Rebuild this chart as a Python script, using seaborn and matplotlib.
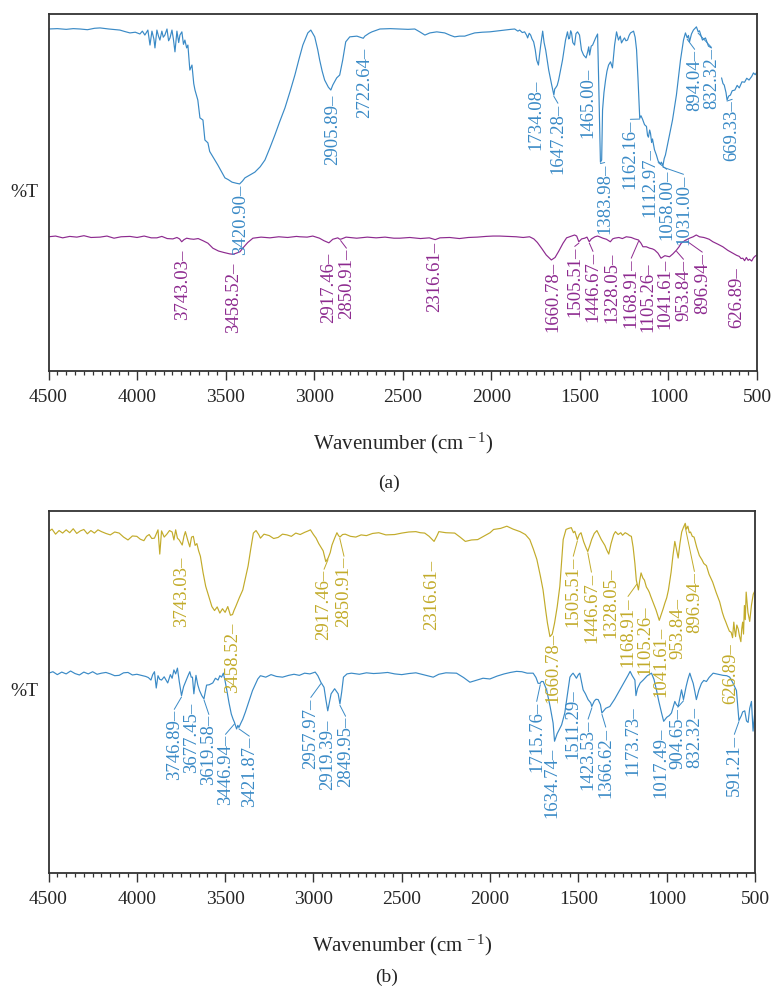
import numpy as np
import pandas as pd
import matplotlib
matplotlib.use("Agg")
import matplotlib.pyplot as plt
from matplotlib.ticker import MultipleLocator
import seaborn as sns

nan = np.nan

# ---------------- panel (a): upper trace (blue) ----------------
wn_a_top = [4500, 4450, 4400, 4360, 4322, 4280, 4240, 4209, 4160, 4120, 4097, 4070, 4040, 4010, 3984, 3970,
            3956, 3939, 3927, 3916, 3905, 3899, 3888, 3879, 3871, 3860, 3852, 3843, 3831, 3822, 3814, 3803,
            3795, 3786, 3775, 3765, 3758, 3747, 3738, 3730, 3720, 3713, 3702, 3690, 3680, 3673, 3657, 3645,
            3628, 3617, 3600, 3590, 3578, 3560, 3544, 3525, 3504, 3485, 3464, 3440, 3421, 3405, 3391, 3360,
            3335, 3305, 3278, 3250, 3222, 3195, 3165, 3135, 3109, 3085, 3064, 3036, 3019, 2997, 2980, 2969,
            2955, 2941, 2920, 2906, 2895, 2873, 2856, 2839, 2822, 2799, 2759, 2740, 2723, 2714, 2690, 2674,
            2629, 2570, 2516, 2470, 2432, 2404, 2375, 2347, 2308, 2263, 2230, 2207, 2180, 2150, 2120, 2094,
            2050, 2009, 1960, 1925, 1890, 1868, 1850, 1840, 1825, 1812, 1800, 1795, 1786, 1778, 1770, 1761,
            1752, 1744, 1734, 1728, 1721, 1710, 1702, 1693, 1676, 1659, 1647, 1642, 1637, 1628, 1620, 1610,
            1598, 1581, 1570, 1563, 1558, 1552, 1547, 1540, 1530, 1522, 1513, 1502, 1491, 1479, 1465, 1456,
            1450, 1445, 1436, 1428, 1411, 1400, 1394, 1384, 1377, 1372, 1364, 1355, 1347, 1338, 1327, 1316,
            1310, 1304, 1293, 1282, 1272, 1265, 1255, 1248, 1240, 1231, 1222, 1214, 1197, 1188, 1180, 1172,
            1166, 1162, 1155, 1146, 1135, 1124, 1118, 1113, 1106, 1101, 1095, 1090, 1079, 1068, 1058, 1045,
            1040, 1031, 1024, 1017, 1000, 977, 955, 932, 915, 904, 894, 887, 881, 870, 859, 850,
            842, 832, 825, 819, 808, 791, 774, 757, 730,
            700, 692, 685, 675, 669, 660, 650, 640, 625, 612, 600, 585, 570, 558, 545, 530, 520, 510, 500]
t_a_top = [95.8, 95.9, 95.7, 95.9, 95.8, 95.6, 96.0, 96.1, 95.8, 95.6, 95.5, 95.1, 94.7, 94.9, 94.4, 95.2,
           94.1, 95.5, 91.3, 95.2, 93.0, 90.5, 95.5, 93.8, 92.7, 95.2, 93.5, 94.1, 95.8, 92.5, 93.3, 95.5,
           93.0, 89.4, 95.2, 92.0, 94.1, 95.0, 91.5, 92.7, 90.5, 91.3, 84.3, 85.7, 80.5, 78.7, 75.9, 70.9,
           70.3, 64.7, 63.9, 61.5, 60.5, 59.0, 57.7, 56.0, 54.1, 53.6, 52.9, 52.6, 52.4, 53.2, 54.1, 55.0,
           55.7, 57.2, 59.1, 62.5, 66.1, 69.8, 73.7, 78.5, 82.9, 87.5, 91.3, 94.7, 95.5, 93.6, 90.0, 87.1,
           84.0, 81.5, 79.5, 78.7, 80.1, 82.1, 82.9, 87.1, 92.2, 93.6, 93.8, 93.5, 93.2, 93.8, 94.6, 95.0,
           95.8, 95.9, 95.8, 95.7, 95.8, 95.0, 94.1, 94.7, 95.0, 94.7, 94.0, 93.6, 93.8, 93.8, 94.3, 94.7,
           94.9, 95.0, 95.3, 95.5, 95.7, 95.8, 95.2, 95.5, 94.8, 95.0, 94.0, 93.3, 94.6, 94.1, 93.0, 92.2,
           90.0, 87.1, 85.7, 88.5, 91.3, 95.2, 92.0, 89.9, 84.3, 80.1, 77.3, 79.0, 79.3, 80.0, 81.5, 84.0,
           87.1, 92.7, 95.0, 93.0, 93.3, 95.3, 94.7, 92.0, 91.3, 94.5, 95.0, 94.1, 89.9, 88.5, 87.7, 89.4,
           90.8, 88.5, 91.0, 91.3, 93.3, 94.4, 81.5, 58.5, 59.1, 73.1, 78.0, 81.5, 84.0, 85.7, 86.6, 84.9,
           88.0, 91.3, 95.0, 92.7, 93.8, 91.9, 92.8, 93.3, 92.5, 92.7, 94.0, 94.7, 95.2, 93.5, 90.0, 82.0,
           75.0, 70.8, 71.5, 70.5, 69.0, 68.5, 66.0, 65.5, 67.5, 66.5, 64.0, 65.0, 62.0, 60.5, 58.8, 58.0,
           58.5, 57.5, 59.5, 60.5, 64.7, 70.3, 77.3, 87.1, 92.7, 94.7, 93.3, 94.0, 92.2, 94.4, 95.5, 96.0,
           96.4, 95.0, 95.3, 94.4, 92.7, 93.3, 91.0, 90.5, nan,
           82.1, 80.5, 80.1, 78.0, 75.9, 77.0, 77.3, 78.5, 78.7, 80.0, 79.3, 81.0, 80.9, 82.0, 81.5, 82.5, 83.5, 83.0, 83.8]

# ---------------- panel (a): lower trace (purple) ----------------
wn_a_bot = [4500, 4460, 4420, 4380, 4340, 4300, 4260, 4209, 4170, 4130, 4090, 4040, 4000, 3960, 3920, 3888,
            3860, 3830, 3798, 3775, 3760, 3748, 3735, 3720, 3700, 3680, 3655, 3628, 3600, 3572, 3540, 3510,
            3476, 3458, 3440, 3419, 3400, 3375, 3346, 3300, 3250, 3200, 3150, 3100, 3081, 3040, 3008, 2970,
            2945, 2917, 2895, 2867, 2855, 2845, 2820, 2799, 2760, 2700, 2650, 2600, 2550, 2516, 2460, 2400,
            2350, 2317, 2290, 2235, 2180, 2130, 2080, 2030, 1990, 1953, 1900, 1860, 1820, 1784, 1760, 1740,
            1715, 1690, 1661, 1640, 1620, 1595, 1575, 1558, 1530, 1518, 1506, 1490, 1473, 1460, 1447, 1435,
            1415, 1400, 1389, 1370, 1350, 1328, 1315, 1304, 1280, 1260, 1238, 1210, 1190, 1169, 1155, 1144,
            1125, 1106, 1090, 1078, 1059, 1042, 1020, 994, 975, 954, 940, 928, 905, 881, 860, 843,
            825, 800, 787, 770, 749, 720, 693, 665, 636, 615, 600, 590, 580, 570, 560, 550,
            542, 530, 520, 510, 500]
t_a_bot = [37.6, 37.8, 37.3, 37.7, 37.5, 37.9, 37.4, 37.5, 37.8, 37.2, 37.6, 37.7, 37.4, 37.8, 37.3, 37.3,
           37.7, 37.1, 37.0, 37.4, 37.0, 36.2, 36.8, 37.2, 37.0, 36.9, 37.1, 36.5, 35.8, 34.4, 33.6, 33.2,
           32.8, 32.7, 33.0, 33.4, 34.6, 36.0, 37.2, 37.5, 37.3, 37.6, 37.4, 37.7, 37.6, 37.5, 37.8, 37.2,
           36.5, 35.9, 36.9, 37.3, 36.9, 37.0, 37.5, 37.4, 37.2, 37.5, 37.3, 37.5, 37.2, 37.2, 37.4, 37.1,
           37.3, 36.8, 37.3, 37.4, 37.1, 37.4, 37.5, 37.7, 37.8, 37.8, 37.7, 37.6, 37.4, 37.6, 37.0, 36.0,
           34.3, 32.5, 31.1, 31.8, 33.5, 35.8, 37.3, 37.6, 38.1, 37.8, 36.2, 37.0, 37.2, 37.5, 36.2, 37.0,
           37.6, 37.8, 37.6, 37.2, 36.9, 36.2, 37.0, 37.2, 37.4, 37.1, 37.6, 37.4, 37.0, 36.7, 35.8, 34.8,
           34.8, 34.4, 34.2, 33.9, 33.0, 31.6, 32.3, 32.0, 32.8, 33.9, 34.8, 35.8, 36.6, 37.2, 37.6, 38.1,
           37.6, 37.4, 37.2, 36.9, 36.2, 35.5, 34.8, 33.8, 33.0, 32.4, 32.1, 31.5, 31.6, 30.9, 31.8, 31.0,
           31.3, 30.8, 31.7, 32.2, 32.5]

# ---------------- panel (b): upper trace (yellow) ----------------
wn_b_top = [4500, 4480, 4460, 4440, 4420, 4400, 4380, 4360, 4340, 4320, 4300, 4280, 4260, 4240, 4220, 4200,
            4175, 4150, 4125, 4100, 4075, 4050, 4025, 4000, 3980, 3960, 3945, 3930, 3915, 3900, 3880, 3870,
            3860, 3845, 3830, 3815, 3800, 3790, 3780, 3770, 3760, 3743, 3733, 3725, 3712, 3700, 3690, 3680,
            3670, 3660, 3650, 3640, 3625, 3610, 3590, 3575, 3560, 3545, 3530, 3515, 3500, 3485, 3470, 3458,
            3450, 3440, 3420, 3400, 3385, 3370, 3355, 3340, 3325, 3310, 3300, 3280, 3250, 3225, 3200, 3175,
            3150, 3125, 3100, 3075, 3050, 3030, 3017, 3000, 2985, 2970, 2945, 2930, 2917, 2905, 2895, 2880,
            2867, 2858, 2850, 2835, 2820, 2790, 2760, 2730, 2700, 2665, 2630, 2590, 2540, 2500, 2460, 2420,
            2395, 2370, 2345, 2317, 2300, 2290, 2250, 2200, 2170, 2140, 2105, 2070, 2030, 2000, 1980, 1940,
            1905, 1870, 1830, 1800, 1775, 1755, 1735, 1715, 1700, 1685, 1675, 1661, 1648, 1635, 1620, 1605,
            1595, 1586, 1570, 1555, 1540, 1528, 1520, 1506, 1495, 1485, 1470, 1458, 1447, 1435, 1425, 1410,
            1395, 1385, 1370, 1350, 1340, 1328, 1315, 1300, 1290, 1275, 1260, 1250, 1235, 1220, 1210, 1200,
            1190, 1180, 1172, 1160, 1152, 1145, 1135, 1126, 1115, 1105, 1098, 1090, 1075, 1060, 1050, 1042,
            1030, 1020, 1010, 1000, 990, 975, 965, 954, 945, 935, 925, 915, 905, 895, 888, 880,
            872, 865, 855, 845, 830, 815, 800, 790, 775, 760, 740, 720, 700, 685, 675, 665,
            655, 645, 635, 627, 620, 615, 610, 603, 595, 588, 580, 575, 570, 565, 560, 555,
            550, 540, 530, 520, 510, 500]
t_b_top = [94.3, 95.0, 93.6, 94.6, 93.9, 94.8, 94.0, 95.1, 93.8, 94.5, 94.9, 93.7, 94.6, 93.9, 94.8, 94.3,
           93.8, 93.4, 94.2, 93.9, 92.8, 92.0, 93.1, 93.0, 92.2, 91.8, 93.0, 93.5, 92.4, 92.5, 94.8, 88.1,
           94.5, 92.8, 93.6, 94.6, 94.2, 92.0, 94.8, 92.5, 92.0, 90.6, 93.0, 94.3, 92.0, 90.1, 92.8, 93.0,
           90.5, 91.0, 89.0, 87.5, 83.0, 79.2, 76.0, 73.6, 72.5, 73.5, 71.8, 73.0, 72.0, 73.6, 71.2, 71.4,
           72.5, 73.6, 76.0, 78.2, 81.5, 84.8, 89.5, 93.9, 94.6, 93.5, 92.5, 93.6, 93.2, 92.4, 92.7, 93.6,
           93.4, 93.0, 93.9, 93.5, 94.1, 94.5, 94.8, 93.5, 92.5, 91.0, 89.0, 86.0, 87.0, 88.5, 90.6, 92.5,
           94.0, 93.2, 92.8, 93.5, 93.6, 93.0, 92.8, 93.4, 93.2, 93.8, 94.0, 93.4, 93.5, 93.9, 94.2, 94.3,
           94.0, 93.9, 93.0, 91.6, 93.2, 94.3, 94.0, 93.9, 92.8, 91.6, 92.0, 92.1, 93.2, 94.0, 94.9, 95.2,
           95.8, 95.0, 94.3, 93.5, 92.1, 89.5, 86.6, 82.0, 78.2, 72.5, 69.0, 65.3, 66.0, 69.0, 73.5, 79.2,
           86.0, 92.1, 94.9, 95.2, 95.4, 94.0, 94.4, 92.1, 93.5, 94.0, 91.5, 90.0, 88.8, 90.5, 92.1, 93.8,
           94.6, 93.6, 92.1, 90.5, 89.3, 88.1, 91.0, 93.5, 94.3, 93.5, 94.0, 93.3, 94.0, 93.6, 93.2, 93.0,
           90.0, 85.5, 80.9, 78.2, 81.0, 82.9, 81.5, 80.9, 79.0, 78.2, 77.5, 76.4, 74.5, 72.6, 71.0, 69.8,
           71.5, 73.0, 74.6, 76.0, 78.2, 83.1, 87.5, 91.6, 89.5, 87.0, 91.0, 94.2, 95.5, 96.6, 95.0, 95.8,
           94.0, 94.2, 93.0, 92.8, 90.0, 87.7, 86.5, 85.5, 84.9, 82.5, 80.4, 77.5, 74.9, 72.0, 70.5, 69.3,
           68.0, 66.8, 66.5, 65.0, 69.3, 67.0, 65.3, 68.5, 67.4, 65.5, 63.9, 67.5, 69.3, 66.0, 73.9, 70.0,
           77.6, 72.0, 69.5, 74.0, 77.0, 78.0]

# ---------------- panel (b): lower trace (blue) ----------------
wn_b_bot = [4500, 4475, 4450, 4425, 4400, 4375, 4350, 4325, 4300, 4275, 4250, 4225, 4200, 4175, 4150, 4125,
            4100, 4075, 4050, 4025, 4000, 3975, 3950, 3935, 3920, 3910, 3900, 3890, 3880, 3870, 3860, 3845,
            3825, 3810, 3800, 3790, 3780, 3770, 3760, 3747, 3735, 3720, 3710, 3700, 3692, 3685, 3677, 3665,
            3655, 3645, 3632, 3620, 3605, 3590, 3570, 3555, 3540, 3530, 3520, 3510, 3500, 3490, 3478, 3465,
            3455, 3447, 3435, 3428, 3422, 3410, 3400, 3385, 3370, 3358, 3345, 3330, 3315, 3300, 3270, 3240,
            3210, 3175, 3140, 3110, 3080, 3050, 3020, 2990, 2975, 2958, 2940, 2930, 2919, 2908, 2900, 2880,
            2870, 2860, 2850, 2840, 2830, 2810, 2785, 2740, 2700, 2660, 2624, 2580, 2540, 2500, 2460, 2420,
            2380, 2350, 2322, 2290, 2250, 2190, 2150, 2114, 2080, 2040, 2001, 1960, 1920, 1885, 1850, 1820,
            1790, 1756, 1740, 1728, 1716, 1710, 1699, 1690, 1680, 1660, 1643, 1635, 1620, 1595, 1577, 1560,
            1548, 1538, 1530, 1520, 1511, 1500, 1492, 1473, 1460, 1445, 1430, 1424, 1410, 1400, 1388, 1375,
            1367, 1345, 1322, 1295, 1265, 1240, 1220, 1207, 1195, 1180, 1174, 1165, 1150, 1133, 1110, 1086,
            1072, 1058, 1045, 1029, 1017, 1000, 985, 973, 954, 945, 935, 925, 916, 905, 890, 880,
            869, 860, 850, 840, 832, 818, 803, 790, 775, 760, 737, 710, 681, 660, 643, 625,
            605, 591, 577, 570, 558, 548, 539, 530, 520, 511, 500]
t_b_bot = [55.2, 55.6, 54.8, 55.5, 55.0, 55.8, 55.1, 54.7, 55.5, 55.0, 55.6, 54.9, 55.2, 55.4, 55.0, 54.5,
           54.6, 55.3, 55.4, 54.7, 54.9, 54.6, 54.3, 54.0, 53.3, 54.8, 55.6, 51.1, 54.5, 53.5, 53.3, 54.2,
           52.5, 54.8, 53.8, 56.1, 55.0, 56.6, 53.0, 49.0, 51.5, 53.3, 54.5, 55.6, 54.1, 54.1, 49.5, 54.6,
           52.0, 50.4, 49.0, 48.1, 51.9, 52.0, 52.5, 53.8, 53.3, 54.5, 54.1, 55.2, 53.0, 50.4, 47.0, 43.9,
           42.5, 41.6, 39.8, 40.8, 40.2, 41.5, 42.5, 44.5, 46.7, 48.5, 50.4, 52.0, 53.6, 54.5, 54.1, 54.8,
           54.3, 54.1, 54.6, 54.9, 54.6, 55.2, 55.0, 55.5, 54.5, 52.7, 51.3, 48.0, 44.8, 47.5, 49.5, 50.9,
           50.2, 49.5, 46.7, 50.0, 54.1, 55.0, 55.2, 54.9, 55.3, 55.1, 55.2, 55.4, 55.0, 54.8, 55.1, 55.3,
           54.8, 54.4, 54.1, 54.9, 55.3, 55.2, 54.0, 52.7, 53.2, 53.8, 53.6, 54.4, 55.0, 55.4, 55.7, 55.6,
           55.2, 55.2, 54.0, 52.4, 52.4, 52.9, 52.9, 51.8, 50.6, 46.0, 41.4, 36.4, 38.5, 40.9, 44.2, 50.0,
           54.1, 54.8, 55.2, 54.5, 53.8, 54.8, 55.2, 50.6, 49.5, 47.9, 47.0, 46.0, 47.5, 48.0, 47.9, 46.5,
           44.2, 45.5, 46.0, 48.0, 50.6, 52.8, 54.5, 55.7, 54.5, 53.3, 49.0, 51.0, 52.5, 53.3, 54.5, 55.2,
           53.5, 50.6, 47.5, 44.2, 41.9, 43.0, 43.5, 44.2, 47.4, 46.5, 46.0, 48.5, 50.6, 47.9, 51.5, 53.5,
           55.2, 53.8, 52.4, 50.0, 47.9, 50.5, 52.4, 53.2, 52.9, 54.0, 55.2, 54.9, 54.6, 54.5, 54.1, 52.5,
           50.4, 42.1, 43.5, 44.5, 44.8, 42.0, 41.6, 45.5, 47.4, 39.2, 45.0]

# ---------------- peak labels ----------------
peaks_a_top = ["3420.90", "2905.89", "2722.64", "1734.08", "1647.28", "1465.00", "1383.98", "1162.16",
               "1112.97", "1058.00", "1031.00", "894.04", "832.32", "669.33"]
peaks_a_bot = ["3743.03", "3458.52", "2917.46", "2850.91", "2316.61", "1660.78", "1505.51", "1446.67",
               "1328.05", "1168.91", "1105.26", "1041.61", "953.84", "896.94", "626.89"]
peaks_b_top = ["3743.03", "3458.52", "2917.46", "2850.91", "2316.61", "1660.78", "1505.51", "1446.67",
               "1328.05", "1168.91", "1105.26", "1041.61", "953.84", "896.94", "626.89"]
peaks_b_bot = ["3746.89", "3677.45", "3619.58", "3446.94", "3421.87", "2957.97", "2919.39", "2849.95",
               "1715.76", "1634.74", "1511.29", "1423.53", "1366.62", "1173.73", "1017.49", "904.65",
               "832.32", "591.21"]

# where each label text sits (x in cm-1, top edge in %T units)
pos_a_top = [(3416, 52.1), (2897, 77.3), (2714, 90.5), (1746, 81.5), (1624, 74.8), (1454, 84.9),
             (1360, 58.2), (1215, 70.3), (1105, 62.5), (1010, 56.3), (915, 54.9), (852, 89.9),
             (758, 90.5), (640, 75.9)]
pos_a_bot = [(3743, 33.9), (3457, 30.3), (2921, 33.1), (2818, 34.2), (2319, 36.1), (1655, 30.5),
             (1529, 34.7), (1426, 33.3), (1317, 33.1), (1210, 31.4), (1116, 30.5), (1022, 31.4),
             (915, 31.1), (809, 33.1), (617, 29.1)]
pos_b_top = [(3748, 87.3), (3457, 69.3), (2940, 83.7), (2827, 87.3), (2329, 86.5), (1642, 66.3),
             (1529, 87.3), (1426, 82.9), (1313, 84.3), (1219, 76.2), (1125, 74.0), (1031, 68.0),
             (937, 76.0), (843, 83.1), (636, 63.5)]
pos_b_bot = [(3788, 45.0), (3690, 47.0), (3592, 43.6), (3498, 38.1), (3363, 37.6), (3015, 48.3),
             (2921, 42.3), (2818, 43.1), (1736, 47.2), (1652, 34.5), (1529, 50.6), (1445, 42.3),
             (1345, 40.1), (1191, 45.9), (1031, 40.1), (937, 45.6), (843, 45.9), (617, 38.1)]

BLUE = "#3a8ac6"
PURPLE = "#8d2a8f"
YELLOW = "#c2ab2a"
SPINE = "#333333"

sns.set_style("ticks")
plt.rcParams["font.family"] = ["Liberation Serif", "DejaVu Serif"]
plt.rcParams["mathtext.fontset"] = "custom"
plt.rcParams["mathtext.rm"] = "Liberation Serif"
plt.rcParams["mathtext.it"] = "Liberation Serif:italic"


def draw_trace(ax, wn, t, color):
    df = pd.DataFrame({"wavenumber": wn, "T": t})
    df["segment"] = df["T"].isna().cumsum()
    df = df.dropna()
    sns.lineplot(data=df, x="wavenumber", y="T", units="segment", estimator=None,
                 sort=False, color=color, lw=0.85, ax=ax, legend=False)
    return df


def label_peaks(ax, df, labels, positions, color):
    xs = df["wavenumber"].to_numpy()[::-1]
    ys = df["T"].to_numpy()[::-1]
    for text, (tx, ty) in zip(labels, positions):
        peak = float(text)
        ax.text(tx, ty, text + "\u2013", rotation=90, ha="center", va="top",
                color=color, fontsize=13.5)
        if abs(tx - peak) > 20:
            y_peak = np.interp(peak, xs, ys)
            ax.plot([peak, tx], [y_peak - 0.4, ty + 0.2], color=color, lw=0.7)


fig = plt.figure(figsize=(7.73, 9.94), dpi=100)
W, H = 773, 994
ax_a = fig.add_axes([48.5 / W, 1 - 371 / H, (757 - 48.5) / W, (371 - 14) / H])
ax_b = fig.add_axes([48.5 / W, 1 - 873 / H, (755 - 48.5) / W, (873 - 511) / H])

df = draw_trace(ax_a, wn_a_top, t_a_top, BLUE)
label_peaks(ax_a, df, peaks_a_top, pos_a_top, BLUE)
df = draw_trace(ax_a, wn_a_bot, t_a_bot, PURPLE)
label_peaks(ax_a, df, peaks_a_bot, pos_a_bot, PURPLE)

df = draw_trace(ax_b, wn_b_top, t_b_top, YELLOW)
label_peaks(ax_b, df, peaks_b_top, pos_b_top, YELLOW)
df = draw_trace(ax_b, wn_b_bot, t_b_bot, BLUE)
label_peaks(ax_b, df, peaks_b_bot, pos_b_bot, BLUE)

for ax in (ax_a, ax_b):
    ax.set_xlim(4500, 500)
    ax.set_ylim(0, 100)
    ax.set_xticks(np.arange(4500, 499, -500))
    ax.xaxis.set_minor_locator(MultipleLocator(50))
    ax.set_yticks([])
    ax.tick_params(axis="x", which="major", length=6.7, width=1.0, direction="out",
                   pad=6, labelsize=14, color=SPINE)
    ax.tick_params(axis="x", which="minor", length=3.2, width=0.9, direction="out", color=SPINE)
    for sp in ax.spines.values():
        sp.set_visible(True)
        sp.set_color(SPINE)
        sp.set_linewidth(1.3)
    ax.set_xlabel(r"Wavenumber (cm$^{\,-1}$)", fontsize=15, labelpad=18)
    ax.set_ylabel("%T", rotation=0, fontsize=14, ha="right", va="center")
    ax.yaxis.set_label_coords(-0.014, 0.5)

fig.text(389 / W, 1 - 483 / H, "(a)", ha="center", va="center", fontsize=14)
fig.text(387 / W, 1 - 977 / H, "(b)", ha="center", va="center", fontsize=14)

fig.savefig("out.png", dpi=100)
